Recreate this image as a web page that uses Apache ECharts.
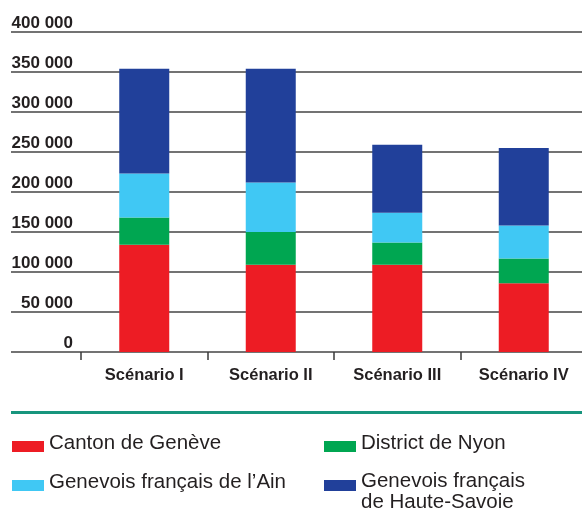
<!DOCTYPE html>
<html>
<head>
<meta charset="utf-8">
<script src="https://cdn.jsdelivr.net/npm/echarts@6/dist/echarts.min.js"></script>
<style>
html,body{margin:0;padding:0;background:#fff;}
#chart{width:582px;height:512px;}
</style>
</head>
<body>
<div id="chart"></div>
<script>
const categories = ['Scénario I', 'Scénario II', 'Scénario III', 'Scénario IV'];
const seriesNames = ['Canton de Genève', 'District de Nyon', 'Genevois français de l\u2019Ain', 'Genevois français de Haute-Savoie'];
const cantonGeneve = [134000, 109000, 109000, 86000];
const districtNyon = [34000, 41000, 28000, 31000];
const genevoisAin = [55000, 62000, 37000, 41000];
const genevoisHauteSavoie = [131000, 142000, 85000, 97000];
const yTicks = [0, 50000, 100000, 150000, 200000, 250000, 300000, 350000, 400000];

const colors = ['#ed1c24', '#00a651', '#40c8f4', '#21409a'];
const textColor = '#231f20';
const font = '"Liberation Sans", Arial, Helvetica, sans-serif';

const chart = echarts.init(document.getElementById('chart'), null, {renderer: 'canvas'});

function fmt(v) {
  return String(v).replace(/\B(?=(\d{3})+(?!\d))/g, ' ');
}

const richStyles = {
  a: {fontFamily: font, fontSize: 20.5, lineHeight: 21, color: textColor},
  sb: {fontSize: 1, lineHeight: 6, color: 'rgba(0,0,0,0)'},
  st: {fontSize: 1, lineHeight: 13, color: 'rgba(0,0,0,0)'}
};

function legendItem(idx, left, top, formatter) {
  return {
    show: true,
    left: left,
    top: top,
    padding: 0,
    orient: 'horizontal',
    selectedMode: false,
    data: [seriesNames[idx]],
    icon: 'rect',
    itemWidth: 32,
    itemHeight: 11,
    formatter: formatter,
    textStyle: {
      fontFamily: font,
      fontSize: 20.5,
      lineHeight: 21,
      color: textColor,
      rich: richStyles
    }
  };
}

function oneLine(name) { return '{a|' + name + '}\n{sb| }'; }

const option = {
  animation: false,
  backgroundColor: '#ffffff',
  grid: [
    {left: 11, right: 0, top: 32, height: 320, outerBoundsMode: 'none'},
    {left: 81, width: 506, top: 32, height: 320, outerBoundsMode: 'none'}
  ],
  xAxis: [
    {type: 'value', gridIndex: 0, show: false, min: 0, max: 1},
    {
      type: 'category', gridIndex: 1, data: categories,
      axisLine: {show: false},
      axisTick: {show: true, length: 8, lineStyle: {color: '#3a3a3a', width: 1.5}},
      axisLabel: {
        margin: 15,
        fontFamily: font, fontSize: 16.5, fontWeight: 'bold', color: textColor
      }
    }
  ],
  yAxis: [
    {
      type: 'value', gridIndex: 0, min: 0, max: 400000, interval: 50000,
      axisLine: {show: false}, axisTick: {show: false}, axisLabel: {show: false},
      splitLine: {show: true, lineStyle: {color: '#444444', width: 1.5}}
    },
    {
      type: 'value', gridIndex: 1, min: 0, max: 400000, interval: 50000,
      axisLine: {show: false}, axisTick: {show: false},
      splitLine: {show: false},
      axisLabel: {
        margin: 8,
        verticalAlign: 'bottom',
        fontFamily: font, fontSize: 17, fontWeight: 'bold', color: textColor,
        formatter: function (v) { return fmt(v); }
      }
    }
  ],
  legend: [
    legendItem(0, 12, 433, oneLine),
    legendItem(1, 324, 433, oneLine),
    legendItem(2, 12, 472, oneLine),
    legendItem(3, 324, 458, function () {
      return '{st| }\n{a|Genevois français}\n{a|de Haute-Savoie}';
    })
  ],
  graphic: [
    {
      type: 'line', silent: true,
      shape: {x1: 11, y1: 412.5, x2: 582, y2: 412.5},
      style: {stroke: '#17957d', lineWidth: 3}
    }
  ],
  series: [
    {name: seriesNames[0], data: cantonGeneve},
    {name: seriesNames[1], data: districtNyon},
    {name: seriesNames[2], data: genevoisAin},
    {name: seriesNames[3], data: genevoisHauteSavoie}
  ].map(function (s, i) {
    return {
      type: 'bar', name: s.name, data: s.data, stack: 'total',
      xAxisIndex: 1, yAxisIndex: 1, barWidth: 50,
      itemStyle: {color: colors[i]},
      emphasis: {disabled: true}
    };
  })
};

chart.setOption(option);
</script>
</body>
</html>
